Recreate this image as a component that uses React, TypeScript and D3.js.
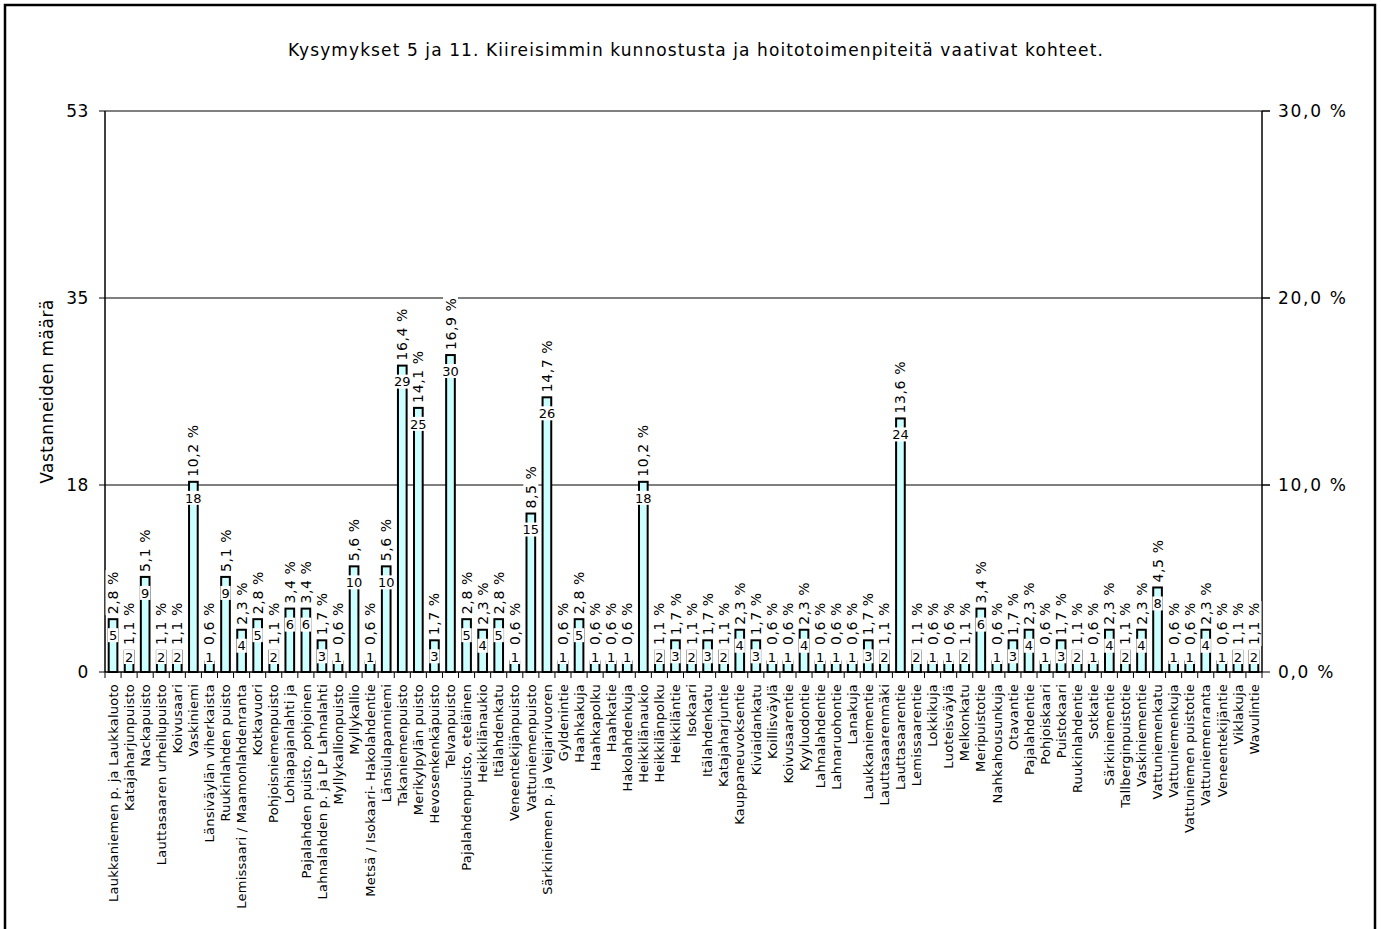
import React from 'react';
import * as d3 from 'd3';

const title = 'Kysymykset 5 ja 11. Kiireisimmin kunnostusta ja hoitotoimenpiteitä vaativat kohteet.';
const yTitle = 'Vastanneiden määrä';

const categories = [
  'Laukkaniemen p. ja Laukkaluoto', 'Katajaharjunpuisto', 'Nackapuisto', 'Lauttasaaren urheilupuisto',
  'Koivusaari', 'Vaskiniemi', 'Länsiväylän viherkaista', 'Ruukinlahden puisto',
  'Lemissaari / Maamonlahdenranta', 'Kotkavuori', 'Pohjoisniemenpuisto', 'Lohiapajanlahti ja',
  'Pajalahden puisto, pohjoinen', 'Lahnalahden p. ja LP Lahnalahti', 'Myllykallionpuisto', 'Myllykallio',
  'Metsä / Isokaari- Hakolahdentie', 'Länsiulapanniemi', 'Takaniemenpuisto', 'Merikylpylän puisto',
  'Hevosenkenkäpuisto', 'Telvanpuisto', 'Pajalahdenpuisto, eteläinen', 'Heikkilänaukio',
  'Itälahdenkatu', 'Veneentekijänpuisto', 'Vattuniemenpuisto', 'Särkiniemen p. ja Veijarivuoren',
  'Gyldenintie', 'Haahkakuja', 'Haahkapolku', 'Haahkatie',
  'Hakolahdenkuja', 'Heikkilänaukio', 'Heikkilänpolku', 'Heikkiläntie',
  'Isokaari', 'Itälahdenkatu', 'Katajaharjuntie', 'Kauppaneuvoksentie',
  'Kiviaidankatu', 'Koillisväylä', 'Koivusaarentie', 'Kyyluodontie',
  'Lahnalahdentie', 'Lahnaruohontie', 'Lanakuja', 'Laukkaniementie',
  'Lauttasaarenmäki', 'Lauttasaarentie', 'Lemissaarentie', 'Lokkikuja',
  'Luoteisväylä', 'Melkonkatu', 'Meripuistotie', 'Nahkahousunkuja',
  'Otavantie', 'Pajalahdentie', 'Pohjoiskaari', 'Puistokaari',
  'Ruukinlahdentie', 'Sotkatie', 'Särkiniementie', 'Tallberginpuistotie',
  'Vaskiniementie', 'Vattuniemenkatu', 'Vattuniemenkuja', 'Vattuniemen puistotie',
  'Vattuniemenranta', 'Veneentekijäntie', 'Viklakuja', 'Wavulintie',
];

const counts = [
  5, 2, 9, 2, 2, 18, 1, 9, 4, 5, 2, 6,
  6, 3, 1, 10, 1, 10, 29, 25, 3, 30, 5, 4,
  5, 1, 15, 26, 1, 5, 1, 1, 1, 18, 2, 3,
  2, 3, 2, 4, 3, 1, 1, 4, 1, 1, 1, 3,
  2, 24, 2, 1, 1, 2, 6, 1, 3, 4, 1, 3,
  2, 1, 4, 2, 4, 8, 1, 1, 4, 1, 2, 2,
];

const percents = [
  2.8, 1.1, 5.1, 1.1, 1.1, 10.2, 0.6, 5.1, 2.3, 2.8, 1.1, 3.4,
  3.4, 1.7, 0.6, 5.6, 0.6, 5.6, 16.4, 14.1, 1.7, 16.9, 2.8, 2.3,
  2.8, 0.6, 8.5, 14.7, 0.6, 2.8, 0.6, 0.6, 0.6, 10.2, 1.1, 1.7,
  1.1, 1.7, 1.1, 2.3, 1.7, 0.6, 0.6, 2.3, 0.6, 0.6, 0.6, 1.7,
  1.1, 13.6, 1.1, 0.6, 0.6, 1.1, 3.4, 0.6, 1.7, 2.3, 0.6, 1.7,
  1.1, 0.6, 2.3, 1.1, 2.3, 4.5, 0.6, 0.6, 2.3, 0.6, 1.1, 1.1,
];

const leftMax = 53.1;
const leftTicks = [0, 17.7, 35.4, 53.1];
const rightTicks = [0, 0.1, 0.2, 0.3];

const FONT = 'DejaVu Sans, Verdana, sans-serif';

const charW: Record<string, number> = { ',': 0.318, ' ': 0.318, '%': 0.95 };
function textWidth(s: string, size: number, ls = 0) {
  let w = 0;
  let n = 0;
  for (const c of s) {
    w += charW[c] ?? 0.636;
    n++;
  }
  return w * size + n * ls;
}

const fmtPct = (v: number) => v.toFixed(1).replace('.', ',') + ' %';

export default function App() {
  const W = 1381;
  const H = 929;
  const left = 105;
  const right = 1262;
  const top = 111;
  const bottom = 672;

  const x = d3
    .scaleBand<number>()
    .domain(d3.range(categories.length))
    .range([left, right])
    .paddingInner(0.46)
    .paddingOuter(0.23);
  const y = d3.scaleLinear().domain([0, leftMax]).range([bottom, top]);
  const yR = d3.scaleLinear().domain([0, 0.3]).range([bottom, top]);
  const step = x.step();
  const bw = x.bandwidth();

  const pctSize = 14;
  const pctLs = 0.6;

  return (
    <div style={{ position: 'absolute', left: 0, top: 0 }}>
      <svg width={W} height={H} style={{ display: 'block', background: '#fff' }} fontFamily={FONT}>
        <rect x={5} y={5} width={1370} height={930} fill="#fff" stroke="#000" strokeWidth={2.5} />
        <text x={696} y={56} textAnchor="middle" fontSize={17} letterSpacing={1.1} fill="#000">
          {title}
        </text>
        {/* gridlines */}
        {rightTicks.slice(1).map((t) => (
          <line key={'g' + t} x1={left} x2={right + 8} y1={yR(t)} y2={yR(t)} stroke="#000" strokeWidth={1} />
        ))}
        {/* left axis */}
        <line x1={left} x2={left} y1={top} y2={bottom} stroke="#000" strokeWidth={1.5} />
        {leftTicks.map((t) => (
          <g key={'l' + t}>
            <line x1={left - 6} x2={left} y1={y(t)} y2={y(t)} stroke="#000" strokeWidth={1} />
            <text x={left - 16} y={y(t)} dy="0.36em" textAnchor="end" fontSize={17} letterSpacing={0.6} fill="#000">
              {d3.format('.0f')(t)}
            </text>
          </g>
        ))}
        {/* right axis */}
        <line x1={right} x2={right} y1={top} y2={bottom} stroke="#000" strokeWidth={1.5} />
        {rightTicks.map((t) => (
          <g key={'r' + t}>
            <line x1={right} x2={right + 8} y1={yR(t)} y2={yR(t)} stroke="#000" strokeWidth={1} />
            <text x={right + 16} y={yR(t)} dy="0.36em" textAnchor="start" fontSize={17} letterSpacing={1.7} fill="#000">
              {(t * 100).toFixed(1).replace('.', ',') + ' %'}
            </text>
          </g>
        ))}
        <text
          transform={`translate(53, ${(top + bottom) / 2}) rotate(-90)`}
          textAnchor="middle"
          fontSize={17}
          letterSpacing={0.5}
          fill="#000"
        >
          {yTitle}
        </text>
        {/* bars */}
        {counts.map((v, i) => (
          <rect
            key={'b' + i}
            x={x(i)!}
            y={y(v)}
            width={bw}
            height={bottom - y(v)}
            fill="#ccffff"
            stroke="#000"
            strokeWidth={2}
          />
        ))}
        {/* x axis */}
        <line x1={left} x2={right} y1={bottom} y2={bottom} stroke="#000" strokeWidth={1.5} />
        {d3.range(categories.length + 1).map((i) => (
          <line
            key={'t' + i}
            x1={left + i * step}
            x2={left + i * step}
            y1={bottom}
            y2={bottom + 6}
            stroke="#000"
            strokeWidth={1}
          />
        ))}
        {categories.map((c, i) => {
          const cx = x(i)! + bw / 2;
          return (
            <text
              key={'c' + i}
              transform={`translate(${cx}, ${bottom + 12}) rotate(-90)`}
              dy="0.36em"
              textAnchor="end"
              fontSize={13}
              letterSpacing={0.25}
              fill="#000"
            >
              {c}
            </text>
          );
        })}
        {/* data labels */}
        {counts.map((v, i) => {
          const cx = x(i)! + bw / 2;
          const cy = Math.min(y(v) + 16, bottom - 15);
          const s = String(v);
          const tw = textWidth(s, 13) + 2;
          const ps = fmtPct(percents[i]);
          const pw = textWidth(ps, pctSize, pctLs) + 2;
          const py = Math.min(y(v) - 4, bottom - 26);
          return (
            <g key={'d' + i}>
              <rect x={cx - tw / 2} y={cy - 7} width={tw} height={14} fill="#fff" />
              <text x={cx} y={cy} dy="0.36em" textAnchor="middle" fontSize={13} fill="#000">
                {s}
              </text>
              <g transform={`translate(${cx}, ${py}) rotate(-90)`}>
                <rect x={0} y={-7.5} width={pw} height={15} fill="#fff" />
                <text x={1} y={0} dy="0.36em" textAnchor="start" fontSize={pctSize} letterSpacing={pctLs} fill="#000">
                  {ps}
                </text>
              </g>
            </g>
          );
        })}
      </svg>
    </div>
  );
}
